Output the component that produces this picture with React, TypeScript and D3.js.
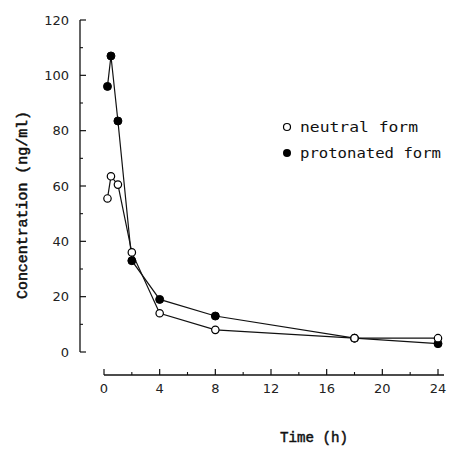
import React from "react";
import * as d3 from "d3";

const times = [0.25, 0.5, 1, 2, 4, 8, 18, 24];
const neutralValues = [55.5, 63.5, 60.5, 36, 14, 8, 5, 5];
const protonatedValues = [96, 107, 83.5, 33, 19, 13, 5, 3];
const xTicks = [0, 4, 8, 12, 16, 20, 24];
const xMinorTicks = [2, 6, 10, 14, 18, 22];
const yTicks = [0, 20, 40, 60, 80, 100, 120];
const yMinorTicks = [10, 30, 50, 70, 90, 110];
const legendLabels = ["neutral form", "protonated form"];

export default function App() {
  const W = 452, H = 464;
  const x = d3.scaleLinear().domain([0, 24]).range([104, 438]);
  const y = d3.scaleLinear().domain([0, 120]).range([352, 20]);
  const yAxisX = 80;
  const xAxisY = 375;
  const line = d3.line<[number, number]>().x(d => x(d[0])).y(d => y(d[1]));
  const nData = times.map((t, i) => [t, neutralValues[i]] as [number, number]);
  const pData = times.map((t, i) => [t, protonatedValues[i]] as [number, number]);
  const tickFont = "DejaVu Sans";
  const titleFont = "Liberation Mono";
  const legendFont = "DejaVu Sans Mono";
  return (
    <svg width={W} height={H} style={{ position: "absolute", left: 0, top: 0, background: "#fff" }}>
      <rect width={W} height={H} fill="#fff" />
      {/* y axis */}
      <line x1={yAxisX} x2={yAxisX} y1={y(120)} y2={y(0)} stroke="#111" strokeWidth={1.3} />
      {yTicks.map(v => (
        <g key={"yt" + v}>
          <line x1={yAxisX} x2={yAxisX + 6} y1={y(v)} y2={y(v)} stroke="#111" strokeWidth={1.2} />
          <text x={yAxisX - 11} y={y(v)} dy="0.35em" textAnchor="end" fontFamily={tickFont} fontSize={13} fill="#222">{v}</text>
        </g>
      ))}
      {yMinorTicks.map(v => (
        <line key={"ym" + v} x1={yAxisX} x2={yAxisX + 3} y1={y(v)} y2={y(v)} stroke="#111" strokeWidth={1.1} />
      ))}
      {/* x axis */}
      <line x1={x(0)} x2={x(24) + 6} y1={xAxisY} y2={xAxisY} stroke="#111" strokeWidth={1.3} />
      {xTicks.map(v => (
        <g key={"xt" + v}>
          <line x1={x(v)} x2={x(v)} y1={xAxisY} y2={xAxisY - 6} stroke="#111" strokeWidth={1.2} />
          <text x={x(v)} y={xAxisY + 13} dy="0.35em" textAnchor="middle" fontFamily={tickFont} fontSize={13} fill="#222">{v}</text>
        </g>
      ))}
      {xMinorTicks.map(v => (
        <line key={"xm" + v} x1={x(v)} x2={x(v)} y1={xAxisY} y2={xAxisY - 3} stroke="#111" strokeWidth={1.1} />
      ))}
      {/* titles */}
      <text x={314} y={437} dy="0.35em" textAnchor="middle" fontFamily={titleFont} fontSize={15} fill="#111" stroke="#111" strokeWidth={0.5} textLength={68} lengthAdjust="spacingAndGlyphs">Time (h)</text>
      <text transform={`translate(22,205) rotate(-90)`} dy="0.35em" textAnchor="middle" fontFamily={titleFont} fontSize={14} fill="#111" stroke="#111" strokeWidth={0.5} textLength={188} lengthAdjust="spacingAndGlyphs">Concentration (ng/ml)</text>
      {/* lines */}
      <path d={line(nData) || ""} fill="none" stroke="#111" strokeWidth={1.2} />
      <path d={line(pData) || ""} fill="none" stroke="#111" strokeWidth={1.2} />
      {pData.map((d, i) => (
        <circle key={"p" + i} cx={x(d[0])} cy={y(d[1])} r={4} fill="#000" stroke="#000" strokeWidth={1} />
      ))}
      {nData.map((d, i) => (
        <circle key={"n" + i} cx={x(d[0])} cy={y(d[1])} r={3.7} fill="#fff" stroke="#000" strokeWidth={1.2} />
      ))}
      {/* legend */}
      <circle cx={287} cy={127} r={3.5} fill="#fff" stroke="#000" strokeWidth={1.2} />
      <text x={300} y={127} dy="0.35em" fontFamily={legendFont} fontSize={14} fill="#111" textLength={118} lengthAdjust="spacingAndGlyphs">{legendLabels[0]}</text>
      <circle cx={287} cy={153} r={4} fill="#000" />
      <text x={300} y={153} dy="0.35em" fontFamily={legendFont} fontSize={14} fill="#111" textLength={141} lengthAdjust="spacingAndGlyphs">{legendLabels[1]}</text>
    </svg>
  );
}
